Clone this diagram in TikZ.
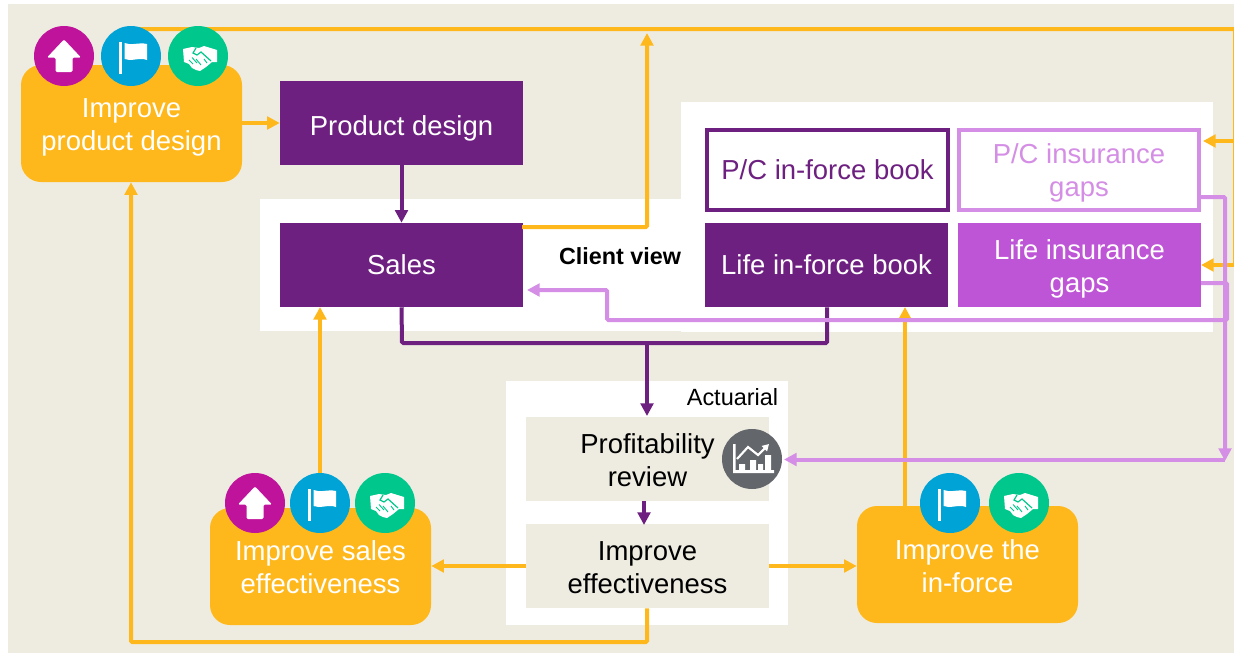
\documentclass[tikz,border=0pt]{standalone}
\usepackage{fontspec}
\setmainfont{Liberation Sans}
\usetikzlibrary{arrows.meta}
\definecolor{beige}{HTML}{EEECE1}
\definecolor{gold}{HTML}{FFB81C}
\definecolor{deep}{HTML}{6E2081}
\definecolor{pale}{HTML}{D58EE5}
\definecolor{mid}{HTML}{BE55D6}
\definecolor{magent}{HTML}{C0139B}
\definecolor{skyb}{HTML}{00A3D6}
\definecolor{greeny}{HTML}{00C78C}
\definecolor{slate}{HTML}{63666A}
\tikzset{
  txt/.style={font=\fontsize{20.6pt}{25pt}\selectfont,align=center,inner sep=0pt},
  pbox/.style={txt,minimum width=182.25pt,minimum height=63pt,text=white,fill=deep},
  gbox/.style={txt,minimum width=182.25pt,minimum height=63pt,text=black,fill=beige},
  lever/.style={txt,minimum width=165.75pt,minimum height=87.75pt,text=white,fill=gold,rounded corners=15pt},
  badge/.style={circle,minimum size=45pt,inner sep=0pt},
  gline/.style={draw=gold,line width=3pt,rounded corners=1pt},
  garrow/.style={gline,-{Triangle[length=9.5pt,width=9.5pt]}},
  vline/.style={draw=deep,line width=3pt,rounded corners=1pt},
  varrow/.style={vline,-{Triangle[length=9.5pt,width=9.5pt]}},
  lline/.style={draw=pale,line width=3pt,rounded corners=1pt},
  larrow/.style={lline,-{Triangle[length=9.5pt,width=9.5pt]}},
  lab/.style={font=\fontsize{17.6pt}{21pt}\selectfont,inner sep=0pt},
}
% moves a text down by #1 reference pixels inside its node, box size unchanged
\newsavebox{\liftbox}
\newcommand{\lift}[2]{\sbox{\liftbox}{\begin{tabular}{@{}c@{}}#2\end{tabular}}%
  \raisebox{-\dimexpr#1pt*3/4\relax}[\ht\liftbox][\dp\liftbox]{\usebox{\liftbox}}}
\newcommand{\iconup}[1]{\begin{scope}[shift={(#1)}]
  \fill[white,rounded corners=1pt] (0,-16.5)--(17,1.5)--(8.5,1.5)--(8.5,16)--(-8.5,16)--(-8.5,1.5)--(-17,1.5)--cycle;
\end{scope}}
\newcommand{\iconflag}[1]{\begin{scope}[shift={(#1)}]
  \fill[white] (-12.5,-14) rectangle (-8.8,18);
  \fill[white] (-6.5,-13) .. controls (0,-10) and (8,-14) .. (16,-12) -- (16,4) .. controls (8,1) and (0,6) .. (-6.5,3) -- cycle;
\end{scope}}
\newcommand{\iconshake}[2]{\begin{scope}[shift={(#1)}]
  \fill[white] (-15,-7)--(-6,-9)--(1,-8)--(6,-10)--(19,-6)--(19,6)--(14,6)--(8,11)--(2,15)--(-2,14)--(-6,12)--(-9,8)--(-14,6)--cycle;
  \draw[#2,line width=.9pt] (-2,-8)--(-5,-3)--(-1,-1)--(3,-4)--(13,5);
  \draw[#2,line width=.7pt] (-9,4)--(-5,8) (-6,1.5)--(-1,7) (-2,3)--(3,9) (6,3)--(9,7);
\end{scope}}
\newcommand{\iconchart}[1]{\begin{scope}[shift={(#1)}]
  \fill[white] (-19,-15) rectangle (-16.5,14) (-19,11) rectangle (22,14);
  \fill[white] (-13,5) rectangle (-7,11) (-2,1) rectangle (4,11) (6,5) rectangle (11,11) (13,-4) rectangle (19,11);
  \draw[white,line width=1.6pt,-{Triangle[length=5pt,width=5.5pt]}] (-15,0)--(-4,-12)--(6,-4)--(17,-15);
\end{scope}}
\begin{document}
\begin{tikzpicture}[x=0.75pt,y=-0.75pt]
\useasboundingbox (0,0) rectangle (1234,653);
\fill[white] (0,0) rectangle (1234,653);
\fill[beige] (8,4) rectangle (1234,653);
\fill[white] (260,199) rectangle (682,331);
\fill[white] (681,102) rectangle (1213,332);
\fill[white] (506,381) rectangle (788,625);

% boxes
\node[lever] (ipd) at (131.5,123.5) {\lift{3.5}{Improve\\product design}};
\node[pbox] (pd) at (401.5,123) {\lift{6}{Product design}};
\node[pbox] (sales) at (401.5,265) {\lift{3}{Sales}};
\node[txt,minimum width=181pt,minimum height=60pt,fill=white,draw=deep,line width=3pt,text=deep] (pcb) at (827.5,170) {P/C in-force book};
\node[txt,minimum width=180pt,minimum height=60pt,fill=white,draw=pale,line width=3pt,text=pale] (pcg) at (1079,170) {\lift{3}{P/C insurance\\gaps}};
\node[pbox] (lib) at (826.5,265) {\lift{3}{Life in-force book}};
\node[pbox,fill=mid] (lig) at (1079.5,265) {\lift{4}{Life insurance\\gaps}};
\node[gbox] (prof) at (647.5,459) {\lift{4}{Profitability\\review}};
\node[gbox] (imp) at (647.5,566) {\lift{4}{Improve\\effectiveness}};
\node[lever] (ise) at (320.5,566.5) {\lift{4}{Improve sales\\effectiveness}};
\node[lever] (iif) at (967.5,564.5) {\lift{5}{Improve the\\in-force}};
\node[lab,font=\fontsize{17.5pt}{21pt}\selectfont\bfseries] (cv) at (620,256) {Client view};
\node[lab] (act) at (732.5,397) {Actuarial};

% free ends and bends
\coordinate (topr) at (1235,29);
\coordinate (rail) at (1235,265);
\coordinate (railA) at (1235,141);
\coordinate (pcgin) at (1203,141);
\coordinate (ligin) at (1201,265);
\coordinate (salesR) at (522,227);
\coordinate (salesUp) at (647,227);
\coordinate (topIn) at (647,33);
\coordinate (j1) at (402,343);
\coordinate (j2) at (827,343);
\coordinate (j3) at (647,343);
\coordinate (arrIn) at (647,416);
\coordinate (botC) at (647,642);
\coordinate (botL) at (131,642);
\coordinate (pcgOut) at (1201,197);
\coordinate (pcgR) at (1225,197);
\coordinate (corner) at (1225,461);
\coordinate (ligOut) at (1201,283);
\coordinate (ligR) at (1227,283);
\coordinate (ligD) at (1227,320);
\coordinate (turn1) at (607,320);
\coordinate (turn2) at (607,290);
\coordinate (salesIn) at (527,290);
\coordinate (profIn) at (784,459.5);
\coordinate (corner2) at (1225,459.5);
\coordinate (iseUp) at (320,480);
\coordinate (salesBelow) at (320,307);
\coordinate (iifUp) at (905,510);
\coordinate (libBelow) at (905,307);
\coordinate (profLow) at (644,501);
\coordinate (impTop) at (644,525);

% orange connectors
\draw[gline] (ipd.north) |- (topr);
\draw[gline] (topr) -- (rail);
\draw[garrow] (railA) -- (pcgin);
\draw[garrow] (rail) -- (ligin);
\draw[garrow] (salesR) -- (salesUp) -- (topIn);
\draw[garrow] (ipd.east |- pd.west) -- (pd.west);
\draw[garrow] (iseUp) -- (salesBelow);
\draw[garrow] (iifUp) -- (libBelow);
\draw[garrow] (imp.west) -- (ise.east |- imp.west);
\draw[garrow] (imp.east) -- (iif.west |- imp.east);
\draw[garrow] (imp.south -| botC) -- (botC) -- (botL) -- (ipd.south -| botL);

% purple connectors
\draw[varrow] (pd.south) -- (sales.north);
\draw[vline] (sales.south) -- (j1) -- (j2) -- (lib.south -| j2);
\draw[varrow] (j3) -- (arrIn);
\draw[varrow] (profLow) -- (impTop);

% light purple connectors
\draw[larrow] (pcgOut) -- (pcgR) -- (corner);
\draw[larrow] (ligOut) -- (ligR) -- (ligD) -- (turn1) -- (turn2) -- (salesIn);
\draw[larrow] (corner2) -- (profIn);

% badges
\node[badge,fill=magent] (b1) at (64,56) {};
\node[badge,fill=skyb] (b2) at (131,56) {};
\node[badge,fill=greeny] (b3) at (198,56) {};
\node[badge,fill=magent] (b4) at (255,503) {};
\node[badge,fill=skyb] (b5) at (320,503) {};
\node[badge,fill=greeny] (b6) at (385,503) {};
\node[badge,fill=skyb] (b7) at (950,503) {};
\node[badge,fill=greeny] (b8) at (1019,503) {};
\node[badge,fill=slate] (b9) at (752,459) {};
\iconup{b1}\iconflag{b2}\iconshake{b3}{greeny}
\iconup{b4}\iconflag{b5}\iconshake{b6}{greeny}
\iconflag{b7}\iconshake{b8}{greeny}
\iconchart{b9}
\end{tikzpicture}
\end{document}
